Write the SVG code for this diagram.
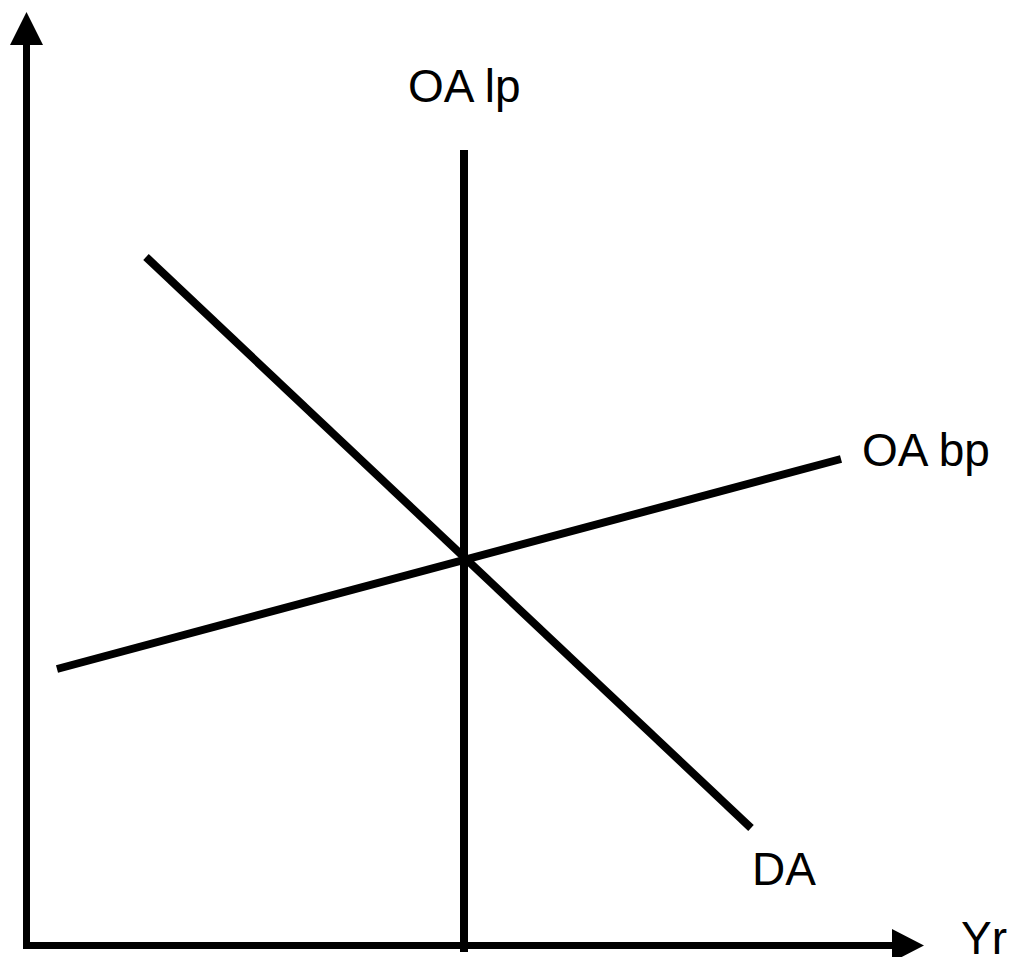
<svg xmlns="http://www.w3.org/2000/svg" width="1016" height="957" viewBox="0 0 1016 957">
<style>
.ax{stroke:#000;stroke-width:7;fill:none}
.ln{stroke:#000;stroke-width:8;fill:none}
.lb{font-family:"Liberation Sans",Arial,sans-serif;font-size:46px;fill:#000}
</style>
<rect width="1016" height="957" fill="#fff"/>
<g id="axes">
<line class="ax" x1="26.5" y1="949" x2="26.5" y2="42"/>
<polygon points="26.5,12 10,45 43,45" fill="#000"/>
<line class="ax" x1="26" y1="945.5" x2="895" y2="945.5"/>
<polygon points="924,945.5 892,929 892,962" fill="#000"/>
<text class="lb" x="961" y="954">Yr</text>
</g>
<g id="connectors">
<line class="ln" x1="464" y1="150" x2="464" y2="952" stroke-width="10"/>
<line class="ln" x1="146" y1="257" x2="751" y2="828"/>
<line class="ln" x1="57" y1="669" x2="841" y2="459"/>
</g>
<g id="oa-lp"><text class="lb" x="408" y="102">OA lp</text></g>
<g id="oa-bp"><text class="lb" x="862" y="466">OA bp</text></g>
<g id="da"><text class="lb" x="752" y="885">DA</text></g>
</svg>
